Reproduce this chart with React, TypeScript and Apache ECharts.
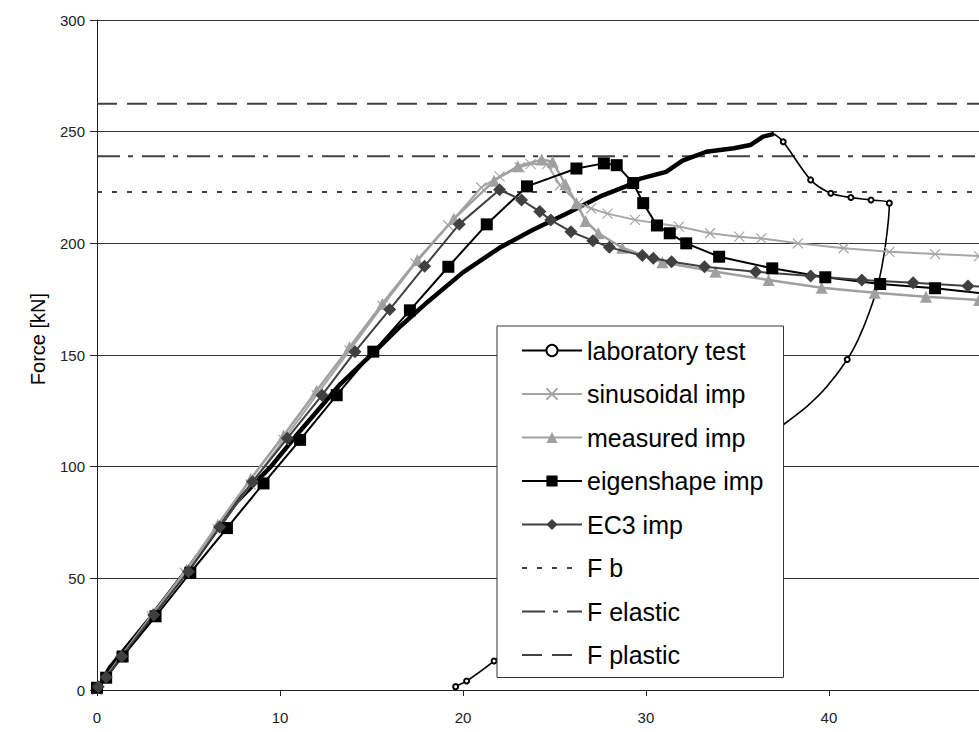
import React, { useEffect, useRef } from "react";
import * as echarts from "echarts";

// ---- data (displacement [mm] vs force [kN]) ----
const labLoadX = [0, 0.7, 2.7, 5.6, 7.6, 9.5, 11.1, 13.3, 15.1, 16.6, 18.1, 20.0, 22.0, 23.8, 25.7, 27.5, 28.9, 29.7, 31.1, 32.0, 33.3, 34.8, 35.7, 36.4, 37.0];
const labLoadY = [0, 10, 30, 61, 84, 100, 116, 137, 151, 163, 174, 187, 198, 206, 213.5, 221, 225.5, 229, 232, 237, 241, 242.6, 244, 247.8, 249];

const labUnX = [37.0, 37.5, 39.0, 40.1, 41.2, 42.3, 43.3, 43.1, 42.7, 42.2, 41.6, 41.0, 39.9, 38.8, 37.7, 35.0, 31.0, 27.0, 24.0, 21.7, 20.2, 19.6, 19.5];
const labUnY = [249, 245.5, 228.4, 222.4, 220.5, 219.4, 218, 200, 182, 169, 157, 148, 136, 127, 120, 103, 78, 50, 30, 13, 4, 1.5, 0];
const labUnMarked = [0, 1, 1, 1, 1, 1, 1, 0, 0, 0, 0, 1, 0, 0, 0, 0, 0, 0, 0, 1, 1, 1, 0];

const sinX = [0, 1.3, 3.0, 4.8, 6.6, 8.4, 10.2, 12.0, 13.8, 15.6, 17.4, 19.2, 21.0, 22.0, 23.1, 23.7, 24.6, 25.3, 26.3, 27.0, 27.9, 29.4, 31.8, 33.5, 35.1, 36.3, 38.3, 40.8, 43.3, 45.8, 48.2];
const sinY = [0, 14.5, 33, 52.5, 72, 92, 112, 132, 152, 172, 191, 208, 225, 230, 234, 235.5, 235.5, 226, 218, 215.6, 213.3, 210.5, 207.5, 204.5, 203, 202.2, 200, 197.8, 196.2, 195.2, 194.3];

const meaX = [0, 0.5, 1.35, 3.05, 4.9, 6.6, 8.4, 10.2, 12.0, 13.8, 15.6, 17.5, 19.5, 21.7, 23.0, 24.3, 24.9, 25.6, 26.2, 26.7, 27.4, 28.7, 30.9, 33.8, 36.7, 39.6, 42.5, 45.3, 48.2];
const meaY = [1, 6, 15.5, 34, 54, 74, 94.5, 114, 134, 153.5, 173, 192.5, 211, 228, 234.5, 237.5, 236.5, 226.5, 218, 210, 204.5, 198, 191.5, 187.3, 183.6, 180.1, 177.9, 176.1, 174.6];

const eigX = [0, 0.5, 1.4, 3.2, 5.1, 7.1, 9.1, 11.1, 13.1, 15.1, 17.1, 19.2, 21.3, 23.5, 26.2, 27.7, 28.4, 29.3, 29.85, 30.6, 31.3, 32.2, 34.0, 36.9, 39.8, 42.8, 45.8, 48.8];
const eigY = [1, 5.5, 15, 33, 52.5, 72.5, 92.5, 112, 132, 151.5, 170, 189.5, 208.5, 225.5, 233.5, 235.8, 235, 227, 218, 208, 204.5, 200, 194, 188.8, 184.8, 181.8, 179.9, 177.2];

const ec3X = [0.07, 0.5, 1.35, 3.1, 5.0, 6.7, 8.5, 10.4, 12.3, 14.1, 16.0, 17.9, 19.8, 22.0, 23.2, 24.2, 24.8, 25.9, 27.1, 28.0, 29.8, 30.4, 31.4, 33.2, 36.0, 39.0, 41.8, 44.6, 47.6, 50.4];
const ec3Y = [1.5, 5.7, 15, 33.6, 53, 73, 93.3, 112.7, 132, 151.5, 170.4, 189.7, 208.6, 224, 219.4, 214.2, 210.4, 205.2, 201.2, 198.2, 194.5, 193.3, 191.8, 189.5, 187.3, 185.4, 183.6, 182.4, 180.9, 179.6];

const fB = 223;
const fElastic = 239;
const fPlastic = 262.5;
const xLimits = [0, 48.2];

const xTickInterval = 10;
const yTicks = { min: 0, max: 300, interval: 50 };

const legendNames = [
  "laboratory test",
  "sinusoidal imp",
  "measured imp",
  "eigenshape imp",
  "EC3 imp",
  "F b",
  "F elastic",
  "F plastic",
];
const legendLineOnly = ["F b", "F elastic", "F plastic"];

const zip = (xs: number[], ys: number[]) => xs.map((x, i) => [x, ys[i]]);

const FONT = "'Liberation Sans', Arial, sans-serif";

export default function App() {
  const ref = useRef<HTMLDivElement>(null);

  useEffect(() => {
    document.body.style.margin = "0";
    if (!ref.current) return;
    const chart = echarts.init(ref.current, undefined, { renderer: "svg" });

    const hLine = (v: number) => [
      [xLimits[0], v],
      [60, v],
    ];

    const option: any = {
      animation: false,
      backgroundColor: "#ffffff",
      textStyle: { fontFamily: FONT },
      grid: {
        left: 97,
        right: 0,
        top: 20,
        bottom: 42,
        containLabel: false,
        outerBoundsMode: "none",
      },
      xAxis: {
        type: "value",
        min: xLimits[0],
        max: xLimits[1],
        interval: xTickInterval,
        axisLine: { show: true, lineStyle: { color: "#222", width: 1, type: "solid" } },
        axisTick: { show: true, length: 6, inside: false, lineStyle: { color: "#222", type: "solid" } },
        axisLabel: {
          show: true,
          margin: 20,
          fontSize: 15,
          color: "#222",
          fontFamily: FONT,
          showMaxLabel: false,
        },
        splitLine: { show: false },
      },
      yAxis: {
        type: "value",
        min: yTicks.min,
        max: yTicks.max,
        interval: yTicks.interval,
        axisLine: { show: true, lineStyle: { color: "#222", width: 1, type: "solid" } },
        axisTick: { show: true, length: 7, lineStyle: { color: "#222", type: "solid" } },
        axisLabel: { margin: 12, fontSize: 15, color: "#222", fontFamily: FONT },
        splitLine: { show: true, lineStyle: { color: "#333", width: 1, type: "solid" } },
      },
      legend: {
        show: true,
        data: legendNames.map((n) =>
          legendLineOnly.includes(n) ? { name: n, itemStyle: { opacity: 0 } } : { name: n }
        ),
        orient: "vertical",
        left: 497,
        top: 326,
        itemWidth: 60,
        itemHeight: 14,
        itemGap: 18.5,
        padding: [12, 20, 10, 24],
        backgroundColor: "#ffffff",
        borderColor: "#333",
        borderWidth: 1,
        borderRadius: 0,
        textStyle: { fontSize: 25, lineHeight: 24, color: "#000", fontFamily: FONT },
        selectedMode: false,
        z: 10,
      },
      graphic: [
        {
          type: "text",
          x: 38,
          y: 339,
          rotation: Math.PI / 2,
          style: {
            text: "Force [kN]",
            fontSize: 20,
            fontFamily: FONT,
            fill: "#000",
            align: "center",
            verticalAlign: "middle",
          },
        },
      ],
      series: [
        {
          name: "F b",
          type: "line",
          data: hLine(fB),
          symbol: "none",
          lineStyle: { color: "#404040", width: 2, type: [5, 10] },
          itemStyle: { color: "#404040" },
          z: 1,
        },
        {
          name: "F elastic",
          type: "line",
          data: hLine(fElastic),
          symbol: "none",
          lineStyle: { color: "#404040", width: 2, type: [23, 8, 5, 9] },
          itemStyle: { color: "#404040" },
          z: 1,
        },
        {
          name: "F plastic",
          type: "line",
          data: hLine(fPlastic),
          symbol: "none",
          lineStyle: { color: "#404040", width: 2, type: [20, 10] },
          itemStyle: { color: "#404040" },
          z: 1,
        },
        {
          name: "lab loading",
          type: "line",
          data: zip(labLoadX, labLoadY),
          symbol: "none",
          lineStyle: { color: "#000", width: 4.5, type: "solid" },
          itemStyle: { color: "#000" },
          z: 2,
        },
        {
          name: "laboratory test",
          type: "line",
          data: labUnX.map((x, i) => ({
            value: [x, labUnY[i]],
            symbol: labUnMarked[i] ? "emptyCircle" : "none",
          })),
          symbol: "emptyCircle",
          symbolSize: 5,
          showAllSymbol: true,
          smooth: 0.3,
          lineStyle: { color: "#000", width: 1.6, type: "solid" },
          itemStyle: { color: "#000", borderColor: "#000", borderWidth: 1 },
          z: 2,
        },
        {
          name: "sinusoidal imp",
          type: "line",
          data: zip(sinX, sinY),
          symbol: "path://M0,0L10,10M0,10L10,0",
          symbolSize: 10,
          showAllSymbol: true,
          lineStyle: { color: "#a6a6a6", width: 2, type: "solid" },
          itemStyle: { color: "#a6a6a6", borderColor: "#a6a6a6", borderWidth: 1.2 },
          z: 3,
        },
        {
          name: "measured imp",
          type: "line",
          data: zip(meaX, meaY),
          symbol: "triangle",
          symbolSize: 12,
          showAllSymbol: true,
          lineStyle: { color: "#a0a0a0", width: 2.5, type: "solid" },
          itemStyle: { color: "#a0a0a0" },
          z: 3,
        },
        {
          name: "eigenshape imp",
          type: "line",
          data: zip(eigX, eigY),
          symbol: "rect",
          symbolSize: 12,
          showAllSymbol: true,
          lineStyle: { color: "#000", width: 2, type: "solid" },
          itemStyle: { color: "#000" },
          z: 4,
        },
        {
          name: "EC3 imp",
          type: "line",
          data: zip(ec3X, ec3Y),
          symbol: "diamond",
          symbolSize: 13,
          showAllSymbol: true,
          lineStyle: { color: "#404040", width: 2, type: "solid" },
          itemStyle: { color: "#404040" },
          z: 4,
        },
      ],
    };

    chart.setOption(option);
    return () => {
      chart.dispose();
    };
  }, []);

  return <div ref={ref} style={{ width: 979, height: 732 }} />;
}
